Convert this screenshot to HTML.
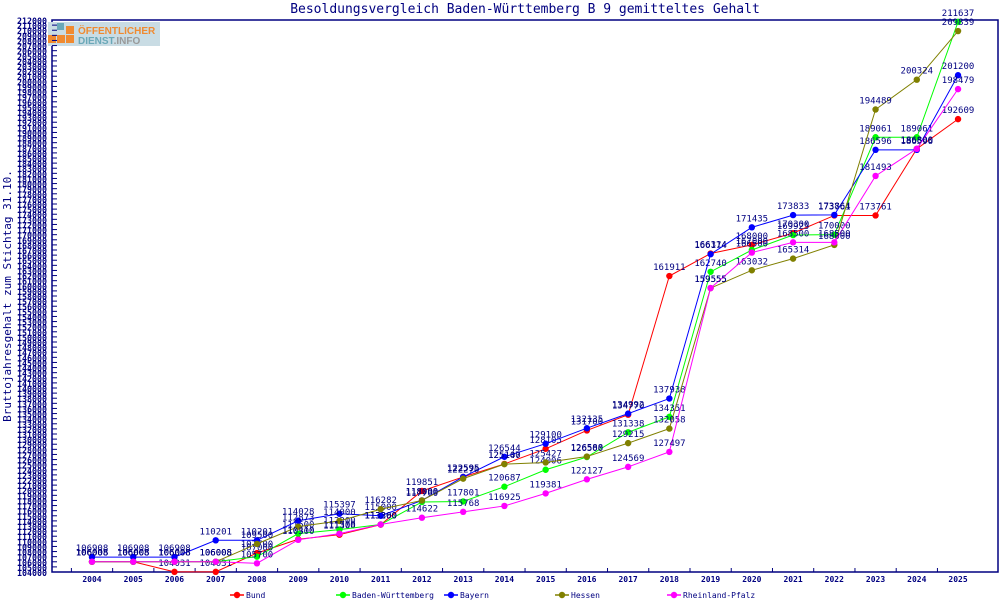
<!DOCTYPE html>
<html><head><meta charset="utf-8"><style>
body{margin:0;background:#fff;width:1000px;height:600px;overflow:hidden}
svg text{font-family:"DejaVu Sans Mono","Liberation Mono",monospace;fill:#000080}
</style></head><body>
<svg id="s" width="1000" height="600" xmlns="http://www.w3.org/2000/svg">
<rect x="52" y="20" width="946" height="552" fill="#fff" stroke="#000080" stroke-width="1.5"/>
<text x="525" y="13" text-anchor="middle" font-size="13">Besoldungsvergleich Baden-Württemberg B 9 gemitteltes Gehalt</text>
<text transform="translate(11,296) rotate(-90)" text-anchor="middle" font-size="11">Bruttojahresgehalt zum Stichtag 31.10.</text>
<g id="logo">
<rect x="48" y="22" width="112" height="24" fill="#c9dce4"/>
<rect x="57" y="23" width="7" height="7" fill="#6aa8b8"/>
<rect x="66" y="26" width="8" height="8" fill="#f08a30"/>
<rect x="48" y="35" width="8" height="8" fill="#f08a30"/>
<rect x="57" y="35" width="8" height="8" fill="#f08a30"/>
<rect x="66" y="35" width="8" height="8" fill="#f08a30"/>
<text x="78" y="34" font-size="10" font-weight="bold" style="fill:#f08a30;font-family:'Liberation Sans',sans-serif">ÖFFENTLICHER</text>
<text x="78" y="44" font-size="10" font-weight="bold" style="fill:#6aa8b8;font-family:'Liberation Sans',sans-serif">DIENST<tspan style="fill:#999">.INFO</tspan></text>
</g>
<g id="ax"></g><g id="ser"></g><g id="leg"></g>
</svg>
<script>
const NS="http://www.w3.org/2000/svg";
function el(p,t,a,txt){const e=document.createElementNS(NS,t);for(const k in a)e.setAttribute(k,a[k]);if(txt!=null)e.textContent=txt;p.appendChild(e);return e;}
const ax=document.getElementById('ax'),ser=document.getElementById('ser'),leg=document.getElementById('leg');
const Y=v=>572-(v-104000)/1000*5.111;
const X=i=>92+i*41.24;
for(let v=104000;v<=212000;v+=1000){const y=Y(v);el(ax,'line',{x1:52,x2:57,y1:y,y2:y,stroke:'#000080'});
el(ax,'text',{x:47,y:y+4,'text-anchor':'end','font-size':'9','font-weight':'bold',textLength:'30',lengthAdjust:'spacingAndGlyphs'},v);}
for(let i=0;i<22;i++){el(ax,'line',{x1:X(i)-20.6,x2:X(i)-20.6,y1:572,y2:568,stroke:'#000080'});
el(ax,'text',{x:X(i),y:582,'text-anchor':'middle','font-size':'8','font-weight':'bold'},2004+i);}
const S=[
["Bund","#ff0000",[106008,106008,104031,104031,107700,110410,111300,113260,119851,122595,125147,128105,131700,134770,161911,166314,168000,170300,173761,173761,186800,192609]],
["Baden-Württemberg","#00ff00",[106008,106008,106008,106008,107000,111500,112300,113300,117700,117801,120687,124006,126500,131338,134351,162740,167000,169925,170000,189061,189061,211637]],
["Bayern","#0000ff",[106908,106908,106908,110201,110201,114028,115397,115000,118000,122595,126544,129100,132135,134992,137938,166174,171435,173833,173864,186596,186596,201200]],
["Hessen","#808000",[106008,106008,106008,106008,109500,112873,114000,116282,118000,122270,125100,125427,126588,129215,132058,159555,163032,165314,168000,194489,200324,209839]],
["Rheinland-Pfalz","#ff00ff",[106008,106008,106008,106008,105700,110300,111500,113300,114622,115768,116925,119381,122127,124569,127497,159555,166500,168500,168500,181493,186800,198479]]];
S.forEach(([n,c,d])=>{
 el(ser,'polyline',{points:d.map((v,i)=>X(i)+','+Y(v)).join(' '),fill:'none',stroke:c,'stroke-width':'1'});
 d.forEach((v,i)=>{el(ser,'circle',{cx:X(i),cy:Y(v),r:3.2,fill:c});
  el(ser,'text',{x:X(i),y:Y(v)-6,'text-anchor':'middle','font-size':'9'},v);});
});
const LX=[237,343,451,562,674];
S.forEach(([n,c],k)=>{const x=LX[k];el(leg,'line',{x1:x-7,x2:x+7,y1:595,y2:595,stroke:c,'stroke-width':'1.5'});
el(leg,'circle',{cx:x,cy:595,r:3.2,fill:c});el(leg,'text',{x:x+9,y:598,'font-size':'8'},n);});
</script>
</body></html>
